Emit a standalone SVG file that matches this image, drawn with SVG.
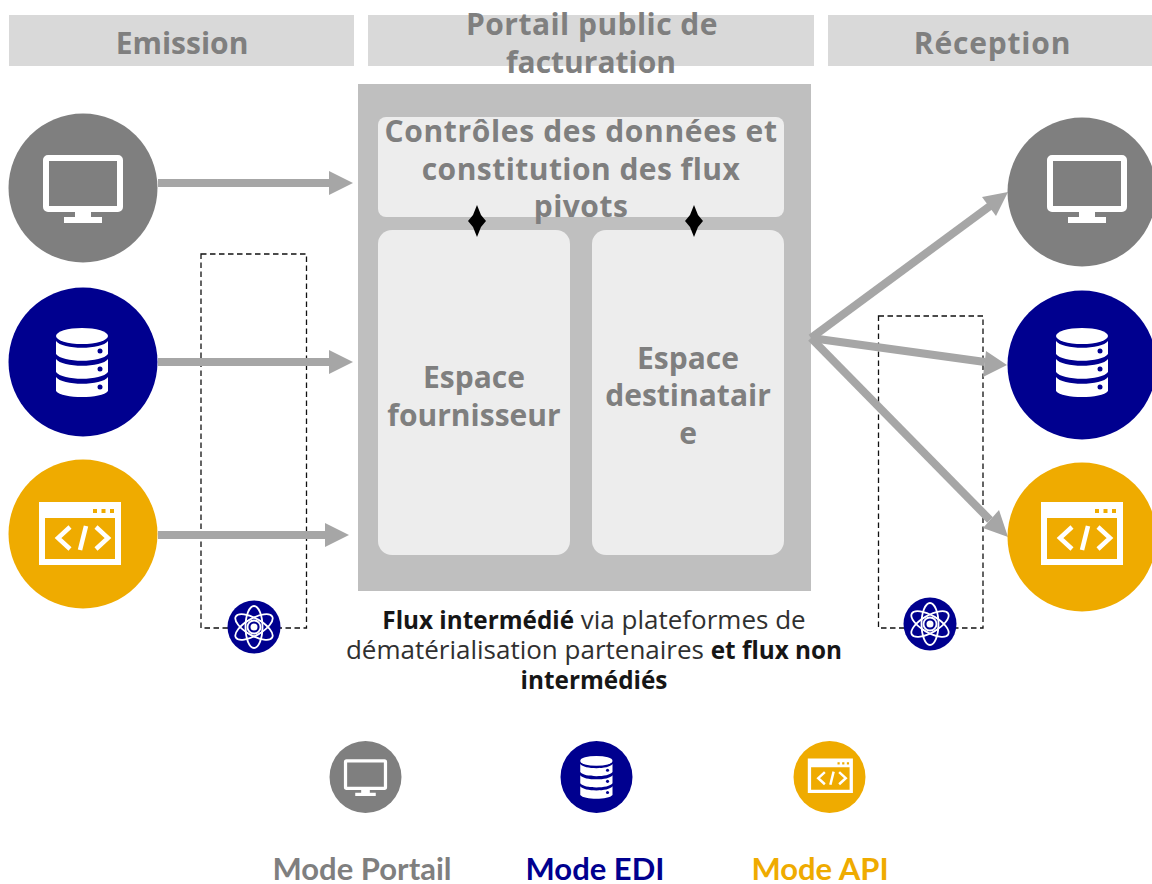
<svg xmlns="http://www.w3.org/2000/svg" width="1152" height="884" viewBox="0 0 1152 884">
<style>
text{font-family:"Open Sans","Noto Sans","Liberation Sans",sans-serif;text-anchor:middle}
.h,.b{font-size:30px;font-weight:700;fill:#7f7f7f}
.t{font-size:26px;fill:#303030}
.t .s{font-size:24.300px;font-weight:700;fill:#161616}
.m{font-family:"Lato","Open Sans",sans-serif;font-size:31px;font-weight:700;font-variant-ligatures:none}
.hd{fill:#d9d9d9}
.in{fill:#ededed}
.ar{fill:none;stroke:#a6a6a6;stroke-width:8}
.ah{fill:#a6a6a6}
.dash{fill:none;stroke:#111;stroke-width:1.3;stroke-dasharray:5.5 3.5}
.gr{color:#7f7f7f}.bl{color:#00008f}.ye{color:#efab00}
.cc{fill:currentColor}
</style>
<defs>
<g id="ic-monitor">
<rect x="-37" y="-30" width="74" height="51" rx="2" fill="none" stroke="#fff" stroke-width="6"/>
<path d="M-8 24h16v5h11v6h-38v-6h11z" fill="#fff"/>
</g>
<g id="ic-db">
<ellipse cx="-1" cy="-26" rx="26" ry="8" fill="#fff"/>
<path d="M-27 -21c6 9 46 9 52 0v13c-6 9 -46 9 -52 0z" fill="#fff"/>
<path d="M-27 -3c6 9 46 9 52 0v13c-6 9 -46 9 -52 0z" fill="#fff"/>
<path d="M-27 15c6 9 46 9 52 0v14c-6 8 -46 8 -52 0z" fill="#fff"/>
<g fill="currentColor"><circle cx="17" cy="-11" r="2.500"/><circle cx="17" cy="7" r="2.500"/><circle cx="17" cy="25" r="2.500"/></g>
</g>
<g id="ic-api">
<path fill-rule="evenodd" d="M-44 -32h82v63h-82zM-38 -16v41h70v-41z" fill="#fff"/>
<g fill="currentColor"><rect x="10" y="-25" width="4" height="4"/><rect x="18.500" y="-25" width="4" height="4"/><rect x="27" y="-25" width="4" height="4"/></g>
<g fill="none" stroke="#fff" stroke-width="4.500"><path d="M-13 -7l-12 11l12 11"/><path d="M13 -7l12 11l-12 11"/><path d="M3 -8l-6 24"/></g>
</g>
<g id="ic-atom">
<circle r="26.500" fill="#00008f"/>
<g fill="none" stroke="#fff" stroke-width="1.800">
<ellipse rx="8.500" ry="21"/>
<ellipse rx="8.500" ry="21" transform="rotate(60)"/>
<ellipse rx="8.500" ry="21" transform="rotate(-60)"/>
<circle r="6.500"/>
</g>
<circle r="3.500" fill="#fff"/>
</g>
</defs>
<rect width="1152" height="884" fill="#fff"/>

<g id="header-emission"><rect class="hd" x="9" y="15" width="345" height="51"/><text class="h" x="182" y="54">Emission</text></g>
<g id="header-portail"><rect class="hd" x="368" y="15" width="446" height="51"/><text class="h" x="592" y="35" letter-spacing=".45">Portail public de</text><text class="h" x="591" y="73">facturation</text></g>
<g id="header-reception"><rect class="hd" x="828" y="15" width="324" height="51"/><text class="h" x="992.500" y="54" letter-spacing=".8">Réception</text></g>

<g id="portail"><rect x="358" y="84" width="453" height="507" fill="#bfbfbf"/></g>
<g id="controles"><rect class="in" x="378" y="117" width="406" height="100" rx="8"/>
<text class="b" x="581" y="142" letter-spacing=".65">Contrôles des données et</text><text class="b" x="581" y="180" letter-spacing=".45">constitution des flux</text><text class="b" x="581" y="217" letter-spacing=".5">pivots</text></g>
<g id="fournisseur"><rect class="in" x="378" y="230" width="192" height="325" rx="14"/>
<text class="b" x="474" y="388">Espace</text><text class="b" x="474" y="426">fournisseur</text></g>
<g id="destinataire"><rect class="in" x="592" y="230" width="192" height="325" rx="14"/>
<text class="b" x="688" y="369">Espace</text><text class="b" x="688" y="406">destinatair</text><text class="b" x="688" y="444">e</text></g>

<g id="dashed-left"><rect class="dash" x="201" y="254" width="105.500" height="374"/></g>
<g id="dashed-right"><rect class="dash" x="878.500" y="316" width="104.500" height="312"/></g>

<g id="connectors">
<path class="ar" d="M158 183H332"/><path class="ah" d="M329 171L353 183L329 195z"/>
<path class="ar" d="M158 362H332"/><path class="ah" d="M329 350L353 362L329 374z"/>
<path class="ar" d="M158 535H328"/><path class="ah" d="M325 523L349 535L325 547z"/>
<path class="ar" d="M811 338L990 206"/><path class="ah" d="M1008 192L996 216L982 197z"/>
<path class="ar" d="M811 338L985 362"/><path class="ah" d="M1007 365L983 377L986 351z"/>
<path class="ar" d="M811 338L990 520"/><path class="ah" d="M1008 537L983 528L999 510z"/>
<path fill="#000" d="M477 205L481 215L486 221L481 227L477 237L473 227L468 221L473 215z"/>
<path fill="#000" d="M694 205L698 215L703 221L698 227L694 237L690 227L685 221L690 215z"/>
</g>

<g id="src-portail" class="gr"><circle class="cc" cx="83" cy="188" r="74.500"/><use href="#ic-monitor" transform="translate(83 188)"/></g>
<g id="src-edi" class="bl"><circle class="cc" cx="83" cy="362" r="74.500"/><use href="#ic-db" transform="translate(83 362)"/></g>
<g id="src-api" class="ye"><circle class="cc" cx="83" cy="534" r="74.500"/><use href="#ic-api" transform="translate(83 534)"/></g>
<g id="dst-portail" class="gr"><circle class="cc" cx="1082" cy="192" r="74.500"/><use href="#ic-monitor" transform="translate(1087 188)"/></g>
<g id="dst-edi" class="bl"><circle class="cc" cx="1082" cy="365" r="74.500"/><use href="#ic-db" transform="translate(1083 362)"/></g>
<g id="dst-api" class="ye"><circle class="cc" cx="1082" cy="537" r="74.500"/><use href="#ic-api" transform="translate(1085 534)"/></g>
<g id="atom-left"><use href="#ic-atom" transform="translate(254 627)"/></g>
<g id="atom-right"><use href="#ic-atom" transform="translate(930 624)"/></g>

<g id="caption"><text class="t" x="594" y="629"><tspan class="s">Flux intermédié</tspan> via plateformes de</text>
<text class="t" x="594" y="659">dématérialisation partenaires <tspan class="s">et flux non</tspan></text>
<text class="t" x="594" y="689"><tspan class="s">intermédiés</tspan></text></g>

<g id="legend-portail" class="gr"><circle class="cc" cx="365.500" cy="777" r="36"/><use href="#ic-monitor" transform="translate(365.500 777) scale(.54)"/><text class="m" x="362" y="880" fill="#7f7f7f">Mode Portail</text></g>
<g id="legend-edi" class="bl"><circle class="cc" cx="596.500" cy="777" r="36"/><use href="#ic-db" transform="translate(597 777) scale(.62)"/><text class="m" x="595" y="880" fill="#00008f">Mode EDI</text></g>
<g id="legend-api" class="ye"><circle class="cc" cx="829.500" cy="777" r="36"/><use href="#ic-api" transform="translate(832 776) scale(.55)"/><text class="m" x="820" y="880" fill="#efab00">Mode API</text></g>
</svg>
